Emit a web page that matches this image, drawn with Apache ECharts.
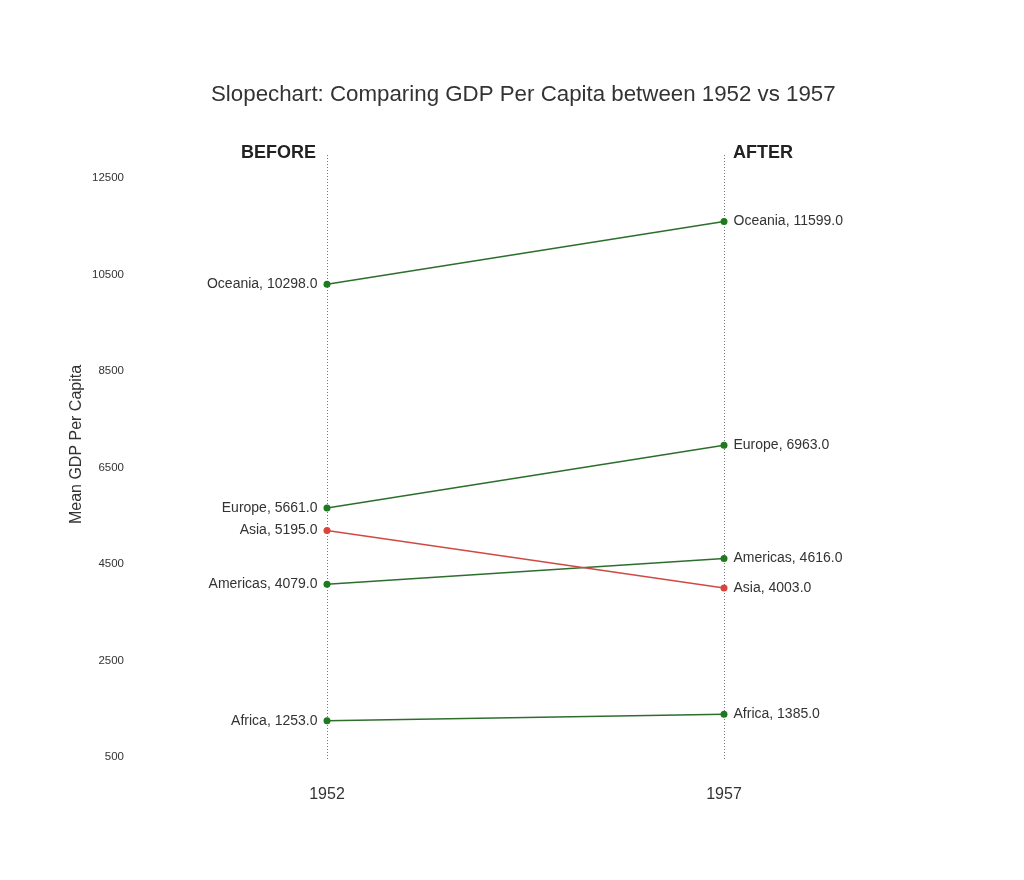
<!DOCTYPE html>
<html>
<head>
<meta charset="utf-8">
<script src="https://cdn.jsdelivr.net/npm/echarts@6/dist/echarts.min.js"></script>
<style>
html,body{margin:0;padding:0;background:#fff;}
#chart{width:1024px;height:880px;}
</style>
</head>
<body>
<div id="chart"></div>
<script>
const years = ['1952', '1957'];
const continents = ['Africa', 'Americas', 'Asia', 'Europe', 'Oceania'];
const gdp1952 = [1253.0, 4079.0, 5195.0, 5661.0, 10298.0];
const gdp1957 = [1385.0, 4616.0, 4003.0, 6963.0, 11599.0];
const yTicks = [500, 2500, 4500, 6500, 8500, 10500, 12500];

const GREEN = '#1e7a1e';
const GREEN_LINE = '#2d6e2d';
const RED = '#d8453d';
const RED_LINE = '#cf4a43';
const FONT = '"Liberation Sans", Arial, Helvetica, sans-serif';

const series = continents.map((name, i) => {
  const up = gdp1957[i] >= gdp1952[i];
  const fmt = (v) => name + ', ' + v.toFixed(1);
  return {
    name: name,
    type: 'line',
    symbol: 'circle',
    symbolSize: 7,
    itemStyle: { color: up ? GREEN : RED },
    lineStyle: { color: up ? GREEN_LINE : RED_LINE, width: 1.5 },
    emphasis: { disabled: true },
    data: [
      { value: gdp1952[i], label: { show: true, position: 'left', distance: 6, formatter: fmt(gdp1952[i]) } },
      { value: gdp1957[i], label: { show: true, position: 'right', distance: 6, formatter: fmt(gdp1957[i]) } }
    ],
    label: { color: '#333', fontSize: 14, fontFamily: FONT }
  };
});

const chart = echarts.init(document.getElementById('chart'));
chart.setOption({
  backgroundColor: '#fff',
  animation: false,
  textStyle: { fontFamily: FONT },
  title: {
    text: 'Slopechart: Comparing GDP Per Capita between 1952 vs 1957',
    left: 206,
    top: 79,
    textStyle: { fontSize: 22.3, fontWeight: 'normal', color: '#333', fontFamily: FONT }
  },
  grid: { left: 327, right: 300, top: 155, bottom: 120 },
  xAxis: {
    type: 'category',
    data: years,
    boundaryGap: false,
    axisLine: { show: false },
    axisTick: { show: false },
    axisLabel: { fontSize: 16, color: '#333', margin: 27, fontFamily: FONT },
    splitLine: { show: true, lineStyle: { type: [1, 2], color: '#777', width: 1 } }
  },
  yAxis: {
    type: 'value',
    min: 438,
    max: 12977,
    name: 'Mean GDP Per Capita',
    nameLocation: 'middle',
    nameGap: 242,
    nameTextStyle: { fontSize: 16, color: '#333', fontFamily: FONT, padding: [0, 0, 0, 26] },
    axisLine: { show: false },
    axisTick: { show: false },
    splitLine: { show: false },
    axisLabel: {
      customValues: yTicks,
      formatter: (v) => String(v),
      fontSize: 11.5, color: '#333', margin: 203, fontFamily: FONT
    }
  },
  graphic: [
    { type: 'text', right: 1024 - 316, top: 144, style: { text: 'BEFORE', fill: '#222', font: 'bold 18px ' + FONT } },
    { type: 'text', left: 733, top: 144, style: { text: 'AFTER', fill: '#222', font: 'bold 18px ' + FONT } }
  ],
  series: series
});
</script>
</body>
</html>
